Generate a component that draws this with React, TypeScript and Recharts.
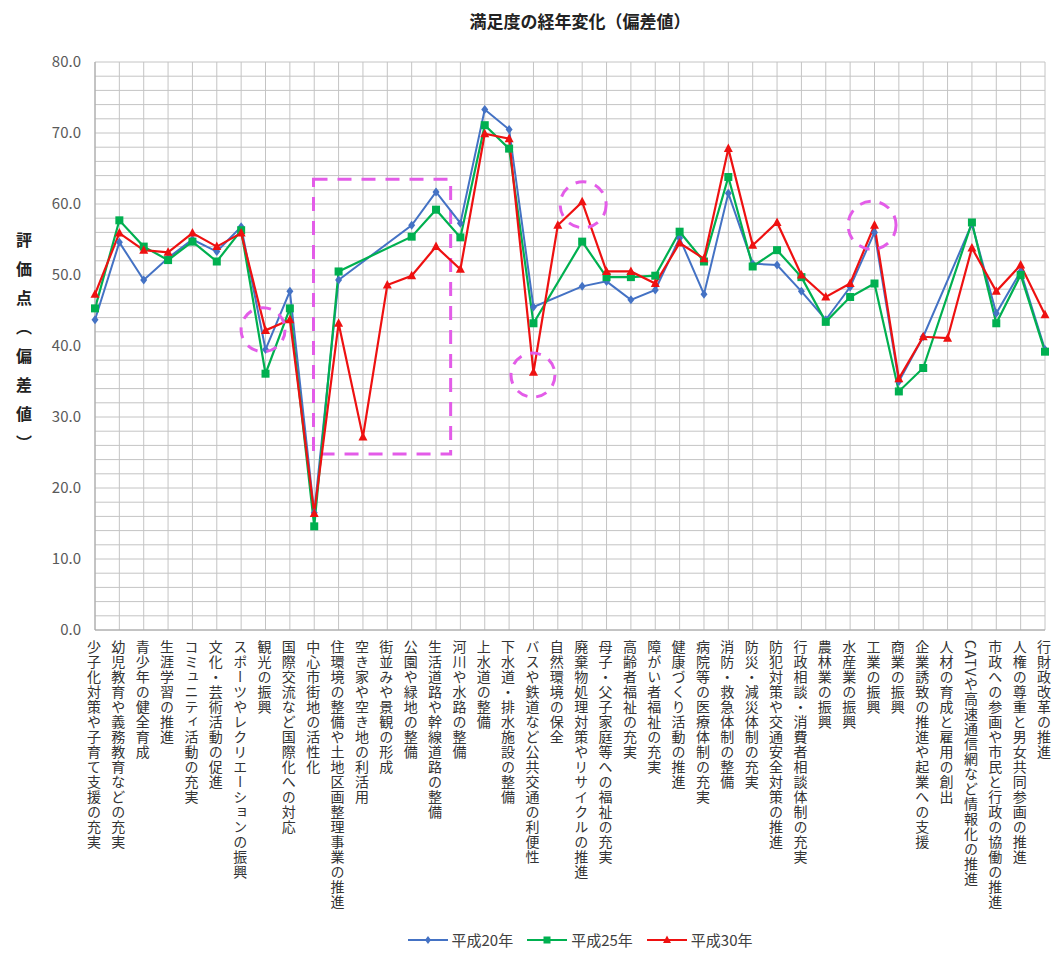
import {
  LineChart,
  Line,
  XAxis,
  YAxis,
  CartesianGrid,
  ReferenceArea,
  ReferenceDot,
} from "recharts"

const categories = [
  "少子化対策や子育て支援の充実",
  "幼児教育や義務教育などの充実",
  "青少年の健全育成",
  "生涯学習の推進",
  "コミュニティ活動の充実",
  "文化・芸術活動の促進",
  "スポーツやレクリエーションの振興",
  "観光の振興",
  "国際交流など国際化への対応",
  "中心市街地の活性化",
  "住環境の整備や土地区画整理事業の推進",
  "空き家や空き地の利活用",
  "街並みや景観の形成",
  "公園や緑地の整備",
  "生活道路や幹線道路の整備",
  "河川や水路の整備",
  "上水道の整備",
  "下水道・排水施設の整備",
  "バスや鉄道など公共交通の利便性",
  "自然環境の保全",
  "廃棄物処理対策やリサイクルの推進",
  "母子・父子家庭等への福祉の充実",
  "高齢者福祉の充実",
  "障がい者福祉の充実",
  "健康づくり活動の推進",
  "病院等の医療体制の充実",
  "消防・救急体制の整備",
  "防災・減災体制の充実",
  "防犯対策や交通安全対策の推進",
  "行政相談・消費者相談体制の充実",
  "農林業の振興",
  "水産業の振興",
  "工業の振興",
  "商業の振興",
  "企業誘致の推進や起業への支援",
  "人材の育成と雇用の創出",
  "CATVや高速通信網など情報化の推進",
  "市政への参画や市民と行政の協働の推進",
  "人権の尊重と男女共同参画の推進",
  "行財政改革の推進",
]

// 平成20年
const h20 = [
  43.7, 54.6, 49.3, 52.4, 55.0, 53.3, 56.8, 39.5, 47.7, 16.5,
  49.3, null, null, 57.0, 61.7, 57.3, 73.3, 70.5, 45.5, null,
  48.4, 49.1, 46.5, 47.9, 55.2, 47.3, 61.5, 51.6, 51.4, 47.7,
  43.7, 48.3, 56.0, 35.0, 41.3, null, 57.2, 44.6, 50.5, 39.5,
]

// 平成25年
const h25 = [
  45.3, 57.7, 54.0, 52.1, 54.7, 51.9, 56.3, 36.1, 45.3, 14.6,
  50.5, null, null, 55.4, 59.2, 55.3, 71.1, 67.8, 43.2, null,
  54.7, 49.7, 49.7, 49.9, 56.1, 51.9, 63.8, 51.2, 53.5, 49.7,
  43.4, 46.9, 48.8, 33.6, 36.9, null, 57.4, 43.2, 50.0, 39.2,
]

// 平成30年
const h30 = [
  47.3, 55.9, 53.5, 53.2, 55.9, 54.0, 55.9, 42.2, 43.7, 16.4,
  43.2, 27.2, 48.6, 49.9, 54.0, 50.8, 69.9, 69.2, 36.3, 57.0,
  60.3, 50.5, 50.5, 48.8, 54.5, 52.3, 67.8, 54.2, 57.4, 50.0,
  46.9, 48.8, 57.0, 35.4, 41.3, 41.1, 53.8, 47.7, 51.4, 44.4,
]

// 目盛ラベル（10刻み）と補助目盛線（2刻み）
const yLabels = [0, 10, 20, 30, 40, 50, 60, 70, 80]
const gridLevels = [
  0, 2, 4, 6, 8, 10, 12, 14, 16, 18, 20, 22, 24, 26, 28, 30, 32, 34, 36, 38, 40,
  42, 44, 46, 48, 50, 52, 54, 56, 58, 60, 62, 64, 66, 68, 70, 72, 74, 76, 78, 80,
]
const xTicks = categories.map((_, i) => i)

// 注目箇所（破線の枠と丸）
const highlightBox = { x1: 8.97, x2: 14.6, y1: 24.8, y2: 63.5 }
const highlightCircles = [
  { x: 6.9, y: 42.3, r: 22 },
  { x: 17.98, y: 35.9, r: 22 },
  { x: 20.04, y: 59.9, r: 23 },
  { x: 31.9, y: 57.0, r: 24 },
]

const data = categories.map((name, i) => ({
  idx: i,
  name,
  h20: h20[i],
  h25: h25[i],
  h30: h30[i],
}))

const BLUE = "#4472c4"
const GREEN = "#00b050"
const RED = "#ee1111"
const PINK = "#e35ce8"
const JP = '"Noto Sans CJK JP", "Noto Sans", sans-serif'

function Diamond({ cx, cy, index }: any) {
  if (cx == null || cy == null) return <g key={`b${index}`} />
  return (
    <polygon
      key={`b${index}`}
      points={`${cx},${cy - 4.5} ${cx + 3.5},${cy} ${cx},${cy + 4.5} ${cx - 3.5},${cy}`}
      fill={BLUE}
    />
  )
}

function Square({ cx, cy, index }: any) {
  if (cx == null || cy == null) return <g key={`g${index}`} />
  return <rect key={`g${index}`} x={cx - 4} y={cy - 4} width={8} height={8} fill={GREEN} />
}

function Triangle({ cx, cy, index }: any) {
  if (cx == null || cy == null) return <g key={`r${index}`} />
  return (
    <polygon
      key={`r${index}`}
      points={`${cx},${cy - 5} ${cx + 4.5},${cy + 3.5} ${cx - 4.5},${cy + 3.5}`}
      fill={RED}
    />
  )
}

function CategoryTick({ x, y, payload }: any) {
  return (
    <text
      x={x - 1}
      y={y + 2}
      fill="#333"
      fontSize={14}
      fontFamily={JP}
      textAnchor="start"
      style={{ writingMode: "vertical-rl", letterSpacing: 1 }}
    >
      {categories[payload.value]}
    </text>
  )
}

function ValueTick({ x, y, payload }: any) {
  if (!yLabels.includes(payload.value)) return <g />
  return (
    <text x={x - 6} y={y + 5} fill="#595959" fontSize={15} fontFamily={JP} textAnchor="end">
      {payload.value.toFixed(1)}
    </text>
  )
}

function LegendItem({ color, label, marker }: { color: string; label: string; marker: "d" | "s" | "t" }) {
  return (
    <div style={{ display: "flex", alignItems: "center", gap: 4 }}>
      <svg width={40} height={12}>
        <line x1={0} y1={6} x2={40} y2={6} stroke={color} strokeWidth={2} />
        {marker === "d" && <polygon points="20,2 23,6 20,10 17,6" fill={color} />}
        {marker === "s" && <rect x={16.5} y={2.5} width={7} height={7} fill={color} />}
        {marker === "t" && <polygon points="20,1.5 24,9 16,9" fill={color} />}
      </svg>
      <span style={{ fontSize: 15, color: "#404040", fontFamily: JP }}>{label}</span>
    </div>
  )
}

export default function App() {
  return (
    <div
      style={{
        position: "absolute",
        left: 0,
        top: 0,
        width: 1054,
        height: 953,
        background: "#fff",
        fontFamily: JP,
      }}
    >
      <div
        style={{
          position: "absolute",
          top: 8,
          left: 380,
          width: 400,
          textAlign: "center",
          fontSize: 17,
          fontWeight: 700,
          color: "#222",
        }}
      >
        満足度の経年変化（偏差値）
      </div>
      <div
        style={{
          position: "absolute",
          left: 12,
          top: 232,
          writingMode: "vertical-rl",
          fontSize: 16,
          fontWeight: 700,
          letterSpacing: 13,
          color: "#222",
        }}
      >
        評価点（偏差値）
      </div>
      <LineChart
        width={1054}
        height={953}
        data={data}
        margin={{ top: 62, right: 9, bottom: 23, left: 40 }}
      >
        <CartesianGrid stroke="#c4c4c4" />
        <XAxis
          type="number"
          dataKey="idx"
          domain={[0, 39]}
          ticks={xTicks}
          interval={0}
          height={300}
          tick={<CategoryTick />}
          tickLine={false}
          axisLine={{ stroke: "#a6a6a6" }}
        />
        <YAxis
          type="number"
          domain={[0, 80]}
          ticks={gridLevels}
          interval={0}
          width={55}
          tick={<ValueTick />}
          tickLine={false}
          axisLine={{ stroke: "#a6a6a6" }}
        />
        <Line
          dataKey="h20"
          name="平成20年"
          stroke={BLUE}
          strokeWidth={2}
          dot={(p: any) => <Diamond {...p} />}
          activeDot={false}
          connectNulls
          isAnimationActive={false}
        />
        <Line
          dataKey="h25"
          name="平成25年"
          stroke={GREEN}
          strokeWidth={2.2}
          dot={(p: any) => <Square {...p} />}
          activeDot={false}
          connectNulls
          isAnimationActive={false}
        />
        <Line
          dataKey="h30"
          name="平成30年"
          stroke={RED}
          strokeWidth={2.2}
          dot={(p: any) => <Triangle {...p} />}
          activeDot={false}
          connectNulls
          isAnimationActive={false}
        />
        <ReferenceArea
          x1={highlightBox.x1}
          x2={highlightBox.x2}
          y1={highlightBox.y1}
          y2={highlightBox.y2}
          fill="none"
          fillOpacity={0}
          stroke={PINK}
          strokeWidth={3}
          strokeDasharray="14 10"
        />
        {highlightCircles.map((c, i) => (
          <ReferenceDot
            key={i}
            x={c.x}
            y={c.y}
            r={c.r}
            fill="none"
            stroke={PINK}
            strokeWidth={3}
            strokeDasharray="11 9"
          />
        ))}
      </LineChart>
      <div
        style={{
          position: "absolute",
          top: 929,
          left: 0,
          width: 1160,
          display: "flex",
          justifyContent: "center",
          gap: 14,
        }}
      >
        <LegendItem color={BLUE} label="平成20年" marker="d" />
        <LegendItem color={GREEN} label="平成25年" marker="s" />
        <LegendItem color={RED} label="平成30年" marker="t" />
      </div>
    </div>
  )
}
